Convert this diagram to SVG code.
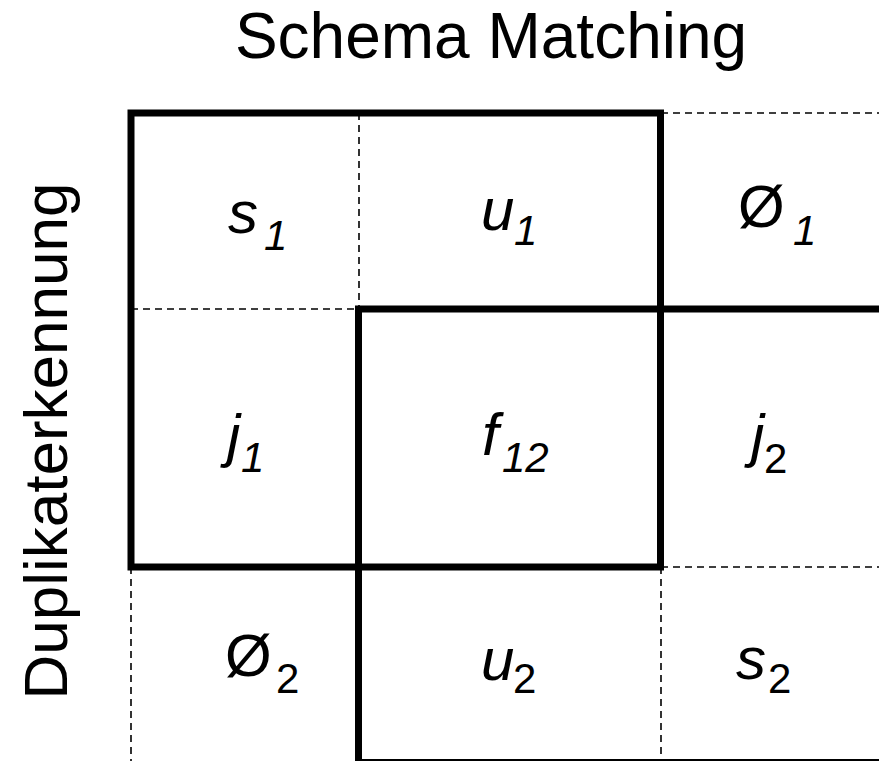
<svg xmlns="http://www.w3.org/2000/svg" width="879" height="761" viewBox="0 0 879 761">
<style>
text{font-family:"Liberation Sans",Arial,Helvetica,sans-serif;fill:#000}
.t{font-size:64px}
.m{font-size:60px;font-style:italic}
.z{font-size:60px}
.si{font-size:42px;font-style:italic}
.su{font-size:42px}
.thick{fill:none;stroke:#000;stroke-width:7;stroke-linejoin:miter}
.dash{fill:none;stroke:#000;stroke-width:1.6;stroke-dasharray:7,5}
</style>
<rect width="879" height="761" fill="#fff"/>
<g id="labels-axes">
<text class="t" x="491" y="58" text-anchor="middle">Schema Matching</text>
<text class="t" style="font-size:62px" text-anchor="middle" transform="translate(67,441) rotate(-90)">Duplikaterkennung</text>
</g>
<g id="connectors">
<path class="dash" d="M359,113V309M131,309H359M661,113H879M661,567H879M661,567V761M131,567V761"/>
<rect class="thick" x="131" y="113" width="529.5" height="454"/>
<rect class="thick" x="358.5" y="309" width="530" height="453.5"/>
</g>
<g id="cell-s1"><text><tspan class="m" x="228" y="233">s</tspan><tspan class="si" x="264" y="250">1</tspan></text></g>
<g id="cell-u1"><text><tspan class="m" x="481" y="230">u</tspan><tspan class="si" x="514" y="245">1</tspan></text></g>
<g id="cell-o1"><text><tspan class="z" x="738" y="227">Ø</tspan><tspan class="si" x="793" y="245">1</tspan></text></g>
<g id="cell-j1"><text><tspan class="m" x="227" y="456">j</tspan><tspan class="si" x="241" y="472">1</tspan></text></g>
<g id="cell-f12"><text><tspan class="m" x="482" y="455">f</tspan><tspan class="si" x="502" y="472">12</tspan></text></g>
<g id="cell-j2"><text><tspan class="m" x="751" y="456">j</tspan><tspan class="su" x="764" y="473">2</tspan></text></g>
<g id="cell-o2"><text><tspan class="z" x="225" y="676">Ø</tspan><tspan class="su" x="276" y="693">2</tspan></text></g>
<g id="cell-u2"><text><tspan class="m" x="481" y="680">u</tspan><tspan class="su" x="513" y="693">2</tspan></text></g>
<g id="cell-s2"><text><tspan class="m" x="736" y="679">s</tspan><tspan class="su" x="768" y="693">2</tspan></text></g>
</svg>
